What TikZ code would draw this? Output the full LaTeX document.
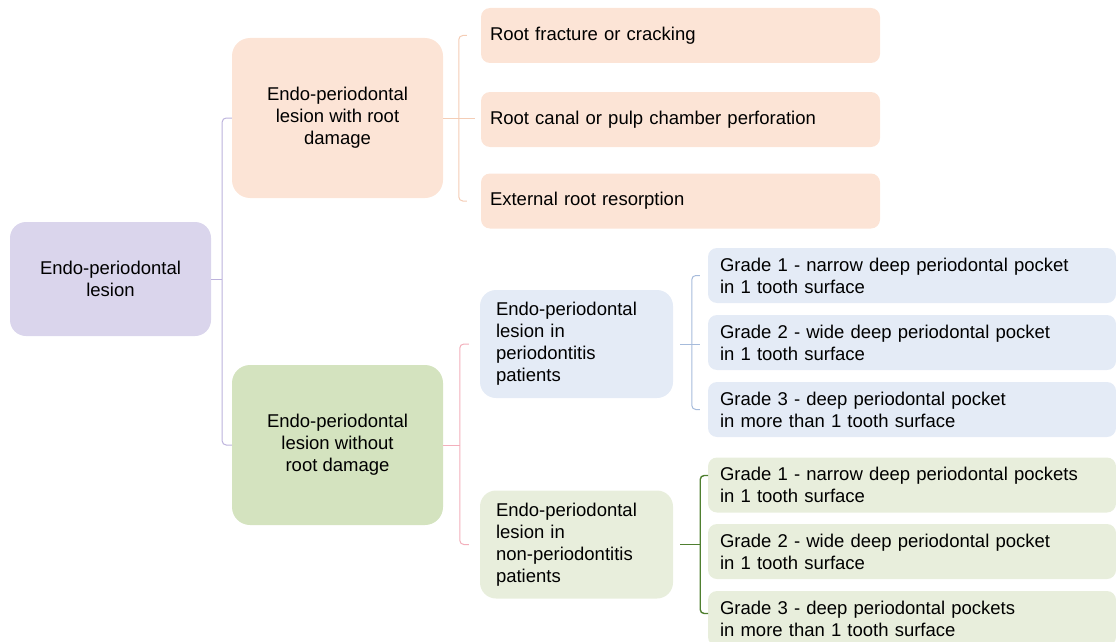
\documentclass[tikz,border=0pt]{standalone}
\usepackage{fontspec}
\setmainfont{Liberation Sans}

\definecolor{lilacfill}{HTML}{DAD5EC}
\definecolor{peachfill}{HTML}{FCE4D6}
\definecolor{sagefill}{HTML}{D4E3BF}
\definecolor{sageleaf}{HTML}{E8EEDC}
\definecolor{skyfill}{HTML}{E4EBF6}
\definecolor{lilacline}{HTML}{BCB2DC}
\definecolor{peachline}{HTML}{F4CDB6}
\definecolor{pinkline}{HTML}{F3AFBB}
\definecolor{skyline}{HTML}{A6BBDB}
\definecolor{sageline}{HTML}{4F7F30}

\begin{document}
\begin{tikzpicture}[
          x=1pt, y=-1pt,
          every node/.style={
            font=\fontsize{18.5}{22}\selectfont,
            text=black,
          },
          bigbox/.style={
            rounded corners=18pt,
            minimum width=211pt,
            minimum height=160pt,
            align=center,
          },
          midbox/.style={
            rounded corners=16pt,
            text width=161pt,
            inner xsep=16pt,
            minimum height=108pt,
            align=left,
          },
          leafbox/.style={
            rounded corners=9pt,
            text width=381pt,
            inner xsep=9pt,
            minimum height=55pt,
            align=left,
          },
          gradebox/.style={
            rounded corners=9pt,
            text width=384pt,
            inner xsep=12pt,
            minimum height=55pt,
            align=left,
          },
          brace/.style={line width=1pt, rounded corners=4pt},
        ]
        \useasboundingbox (0,0) rectangle (1116,642);

        \node[fill=lilacfill, rounded corners=16pt, minimum width=201pt,
              minimum height=114pt, align=center]
              at (110.5,279) (lesion) {Endo-periodontal\\lesion} ;

        \node[bigbox, fill=peachfill] at (337.5,118) (damage)
              {Endo-periodontal\\lesion with root\\damage} ;
        \node[bigbox, fill=sagefill] at (337.5,445) (nodamage)
              {Endo-periodontal\\lesion without\\root damage} ;

        \node[leafbox, fill=peachfill] at (680.5,35.5) (fracture) {Root fracture or cracking} ;
        \node[leafbox, fill=peachfill] at (680.5,119.5) (perforation) {Root canal or pulp chamber perforation} ;
        \node[leafbox, fill=peachfill] at (680.5,201) (resorption) {External root resorption} ;

        \node[midbox, fill=skyfill] at (576.5,344) (perio)
              {Endo-periodontal\\lesion in\\periodontitis\\patients} ;
        \node[midbox, fill=sageleaf] at (576.5,544.5) (nonperio)
              {Endo-periodontal\\lesion in\\non-periodontitis\\patients} ;

        \node[gradebox, fill=skyfill] at (912,275.5) (pgradeone)
              {Grade 1 - narrow deep periodontal pocket\\in 1 tooth surface} ;
        \node[gradebox, fill=skyfill] at (912,342.5) (pgradetwo)
              {Grade 2 - wide deep periodontal pocket\\in 1 tooth surface} ;
        \node[gradebox, fill=skyfill] at (912,409.5) (pgradethree)
              {Grade 3 - deep periodontal pocket\\in more than 1 tooth surface} ;

        \node[gradebox, fill=sageleaf] at (912,485) (ngradeone)
              {Grade 1 - narrow deep periodontal pockets\\in 1 tooth surface} ;
        \node[gradebox, fill=sageleaf] at (912,551.5) (ngradetwo)
              {Grade 2 - wide deep periodontal pocket\\in 1 tooth surface} ;
        \node[gradebox, fill=sageleaf] at (912,618.5) (ngradethree)
              {Grade 3 - deep periodontal pockets\\in more than 1 tooth surface} ;

        % braces
        \coordinate (lesionspine) at ([xshift=11pt]lesion.east) ;
        \draw[brace, lilacline] (damage.west) -| (lesionspine) |- (nodamage.west) ;
        \draw[brace, lilacline] (lesion.east) -- (lesionspine) ;

        \draw[brace, peachline] (damage.east) -- ++(32,0) ;
        \draw[brace, peachline] ([xshift=-14pt]fracture.west) -- ++(-8,0)
              |- ([xshift=-14pt]resorption.west) ;

        \draw[brace, pinkline] (nodamage.east) -- ++(17,0) ;
        \draw[brace, pinkline] ([xshift=-11pt]perio.west) -- ++(-9,0)
              |- ([xshift=-11pt]nonperio.west) ;

        \draw[brace, skyline] ([xshift=7pt]perio.east) -- ++(20,0) ;
        \draw[brace, skyline] ([xshift=-8pt]pgradeone.west) -- ++(-8,0)
              |- ([xshift=-8pt]pgradethree.west) ;

        \draw[brace, sageline, line width=1.4pt] ([xshift=7pt]nonperio.east) -- ++(20,0) ;
        \draw[brace, sageline, line width=1.4pt] ([xshift=27pt]nonperio.east) ++(8,-69) -- ++(-8,0)
              -- ++(0,138) -- ++(8,0) ;
        \end{tikzpicture}
\end{document}
